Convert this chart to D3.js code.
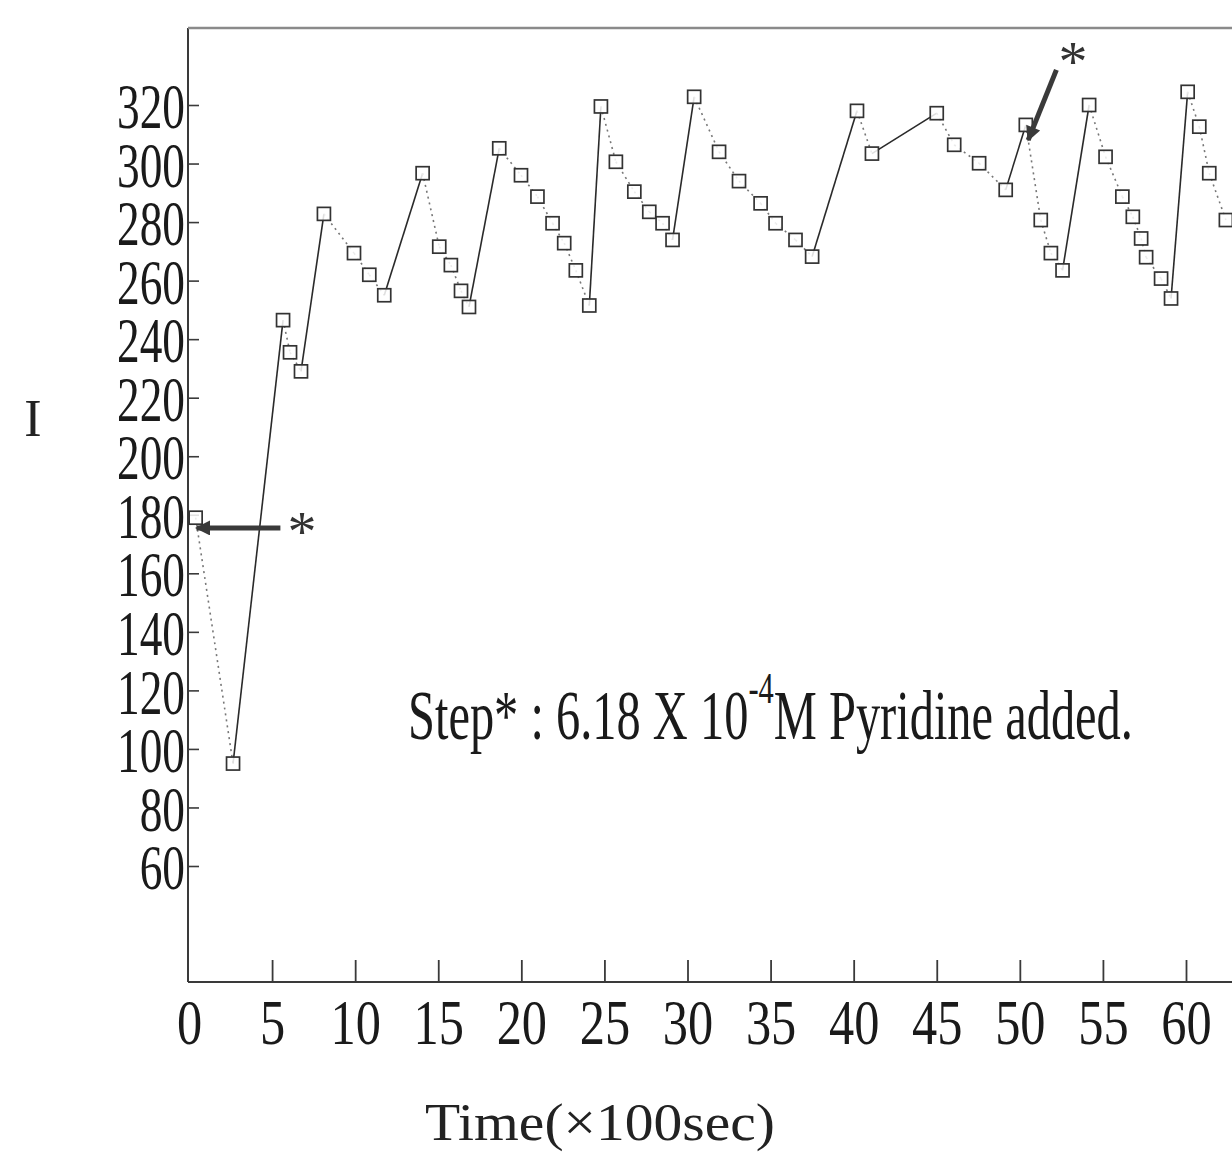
<!DOCTYPE html>
<html>
<head>
<meta charset="utf-8">
<script src="https://cdn.jsdelivr.net/npm/d3@7"></script>
<style>
  html, body { margin: 0; padding: 0; background: #fff; }
  svg { display: block; font-family: "Liberation Serif", "DejaVu Serif", serif; }
</style>
</head>
<body>
<svg id="chart" width="1232" height="1155"></svg>
<script>
// Emission intensity I versus time (x100 s); pyridine added at the marked steps
const timeValues = [
  0.4, 2.65, 5.66, 6.08, 6.74, 8.12, 9.93, 10.85, 11.75, 14.06,
  15.06, 15.76, 16.37, 16.85, 18.67, 19.98, 20.97, 21.88, 22.58, 23.28,
  24.09, 24.79, 25.69, 26.8, 27.7, 28.5, 29.1, 30.4, 31.9, 33.1,
  34.4, 35.3, 36.5, 37.5, 40.2, 41.1, 45.0, 46.05, 47.55, 49.15,
  50.36, 51.26, 51.87, 52.57, 54.17, 55.16, 56.17, 56.8, 57.3, 57.6,
  58.5, 59.1, 60.1, 60.8, 61.4, 62.4
];
const intensityValues = [
  179, 95, 246.5, 235.5, 229, 282.8, 269.4, 262, 255, 296.7,
  271.6, 265.3, 256.5, 251, 305.2, 296, 288.7, 279.6, 272.8, 263.5,
  251.5, 319.5, 300.6, 290.4, 283.5, 279.6, 273.9, 322.8, 304, 294,
  286.4, 279.6, 273.9, 268.2, 318, 303.4, 317.2, 306.4, 300.1, 291,
  313.2, 280.7, 269.4, 263.5, 320, 302.3, 288.7, 281.8, 274.4, 268,
  260.7, 253.9, 324.5, 312.6, 296.7, 280.7
];
const xTickValues = [0, 5, 10, 15, 20, 25, 30, 35, 40, 45, 50, 55, 60];
const yTickValues = [60, 80, 100, 120, 140, 160, 180, 200, 220, 240, 260, 280, 300, 320];
// pyridine additions: arrow tail, arrow tip, asterisk position (time, I)
const additionTails = [[5.5, 175.5], [52.2, 332]];
const additionTips  = [[0.45, 175.5], [50.5, 308]];
const additionStars = [[6.8, 177.5], [53.2, 338]];

const svg = d3.select("#chart");
const plotLeft = 188, plotRight = 1232, plotTop = 28, plotBottom = 982;

const x = d3.scaleLinear().domain([0, 60]).range([189, 1186]);
const y = d3.scaleLinear().domain([60, 320]).range([866, 105]);

// squeeze a text horizontally so that it spans the given width
function fitWidth(sel, width) {
  const len = sel.node().getComputedTextLength();
  const k = width / len;
  const x0 = +sel.attr("x"), y0 = +sel.attr("y");
  sel.attr("x", 0).attr("y", 0)
    .attr("transform", `translate(${x0},${y0}) scale(${k},1)`);
}

// frame: left axis line, top border, bottom axis line
svg.append("line").attr("x1", plotLeft).attr("x2", plotLeft)
  .attr("y1", plotTop).attr("y2", plotBottom)
  .attr("stroke", "#3a3a3a").attr("stroke-width", 2);
svg.append("line").attr("x1", plotLeft).attr("x2", plotRight)
  .attr("y1", plotTop).attr("y2", plotTop)
  .attr("stroke", "#8a8a8a").attr("stroke-width", 2.5);
svg.append("line").attr("x1", plotLeft).attr("x2", plotRight)
  .attr("y1", plotBottom).attr("y2", plotBottom)
  .attr("stroke", "#3a3a3a").attr("stroke-width", 2);

// y axis: short inward ticks, condensed numerals
const yAxis = svg.append("g")
  .attr("transform", `translate(${plotLeft},0)`)
  .call(d3.axisLeft(y).tickValues(yTickValues).tickSizeInner(-11).tickSizeOuter(0).tickFormat(d3.format("d")));
yAxis.select(".domain").remove();
yAxis.selectAll(".tick line").attr("stroke", "#3a3a3a").attr("stroke-width", 1.6);
yAxis.selectAll(".tick text")
  .attr("x", 0).attr("dy", "0.36em")
  .attr("transform", "translate(-3,0) scale(0.72,1)")
  .attr("text-anchor", "end")
  .attr("fill", "#1a1a1a")
  .style("font-size", "63px")
  .style("font-family", "'Liberation Serif', serif");

// x axis: tall inward ticks
const xAxis = svg.append("g")
  .attr("transform", `translate(0,${plotBottom})`)
  .call(d3.axisBottom(x).tickValues(xTickValues).tickSizeInner(-22).tickSizeOuter(0).tickPadding(17).tickFormat(d3.format("d")));
xAxis.select(".domain").remove();
xAxis.selectAll(".tick line").attr("stroke", "#3a3a3a").attr("stroke-width", 1.8)
  .attr("display", d => d === 0 ? "none" : null);
xAxis.selectAll(".tick text")
  .attr("transform", "scale(0.8,1)")
  .attr("fill", "#1a1a1a")
  .style("font-size", "63px")
  .style("font-family", "'Liberation Serif', serif");

// axis titles
svg.append("text").attr("x", 33).attr("y", 436)
  .attr("text-anchor", "middle").attr("fill", "#222")
  .style("font-size", "52px").text("I");
const xTitle = svg.append("text").attr("x", 425).attr("y", 1140)
  .attr("fill", "#222").style("font-size", "52px").text("Time(×100sec)");
fitWidth(xTitle, 350);

// connecting segments: rises drawn solid, decays dotted
const pts = timeValues.map((t, i) => ({ t, v: intensityValues[i] }));
const segs = d3.pairs(pts);
svg.append("g").selectAll("line").data(segs).join("line")
  .attr("x1", d => x(d[0].t)).attr("y1", d => y(d[0].v))
  .attr("x2", d => x(d[1].t)).attr("y2", d => y(d[1].v))
  .attr("stroke", d => d[1].v > d[0].v ? "#2a2a2a" : "#777")
  .attr("stroke-width", 1.6)
  .attr("stroke-dasharray", d => d[1].v > d[0].v ? null : "2,4");

// open square markers
const s = 13;
svg.append("g").selectAll("rect").data(pts).join("rect")
  .attr("x", d => x(d.t) - s / 2).attr("y", d => y(d.v) - s / 2)
  .attr("width", s).attr("height", s)
  .attr("fill", "#fff").attr("fill-opacity", 0.85)
  .attr("stroke", "#333").attr("stroke-width", 1.7);

// addition arrows and asterisks
const defs = svg.append("defs");
defs.append("marker").attr("id", "head")
  .attr("viewBox", "0 0 10 10").attr("refX", 9).attr("refY", 5)
  .attr("markerWidth", 5.5).attr("markerHeight", 3)
  .attr("orient", "auto").attr("markerUnits", "strokeWidth")
  .append("path").attr("d", "M0,0 L10,5 L0,10 Z").attr("fill", "#3a3a3a");

additionTails.forEach((tail, i) => {
  const tip = additionTips[i];
  svg.append("line")
    .attr("x1", x(tail[0])).attr("y1", y(tail[1]))
    .attr("x2", x(tip[0])).attr("y2", y(tip[1]))
    .attr("stroke", "#3a3a3a").attr("stroke-width", 5)
    .attr("marker-end", "url(#head)");
  svg.append("text")
    .attr("x", x(additionStars[i][0])).attr("y", y(additionStars[i][1]))
    .attr("dy", "0.5em").attr("text-anchor", "middle")
    .attr("fill", "#333").style("font-size", "58px")
    .text("*");
});

// note
const note = svg.append("text").attr("x", 408).attr("y", 739)
  .attr("fill", "#1a1a1a").style("font-size", "70px");
note.append("tspan").text("Step* : 6.18 X 10");
note.append("tspan").attr("dy", -36).style("font-size", "44px").text("-4");
note.append("tspan").attr("dy", 36).text("M Pyridine added.");
fitWidth(note, 725);
</script>
</body>
</html>
